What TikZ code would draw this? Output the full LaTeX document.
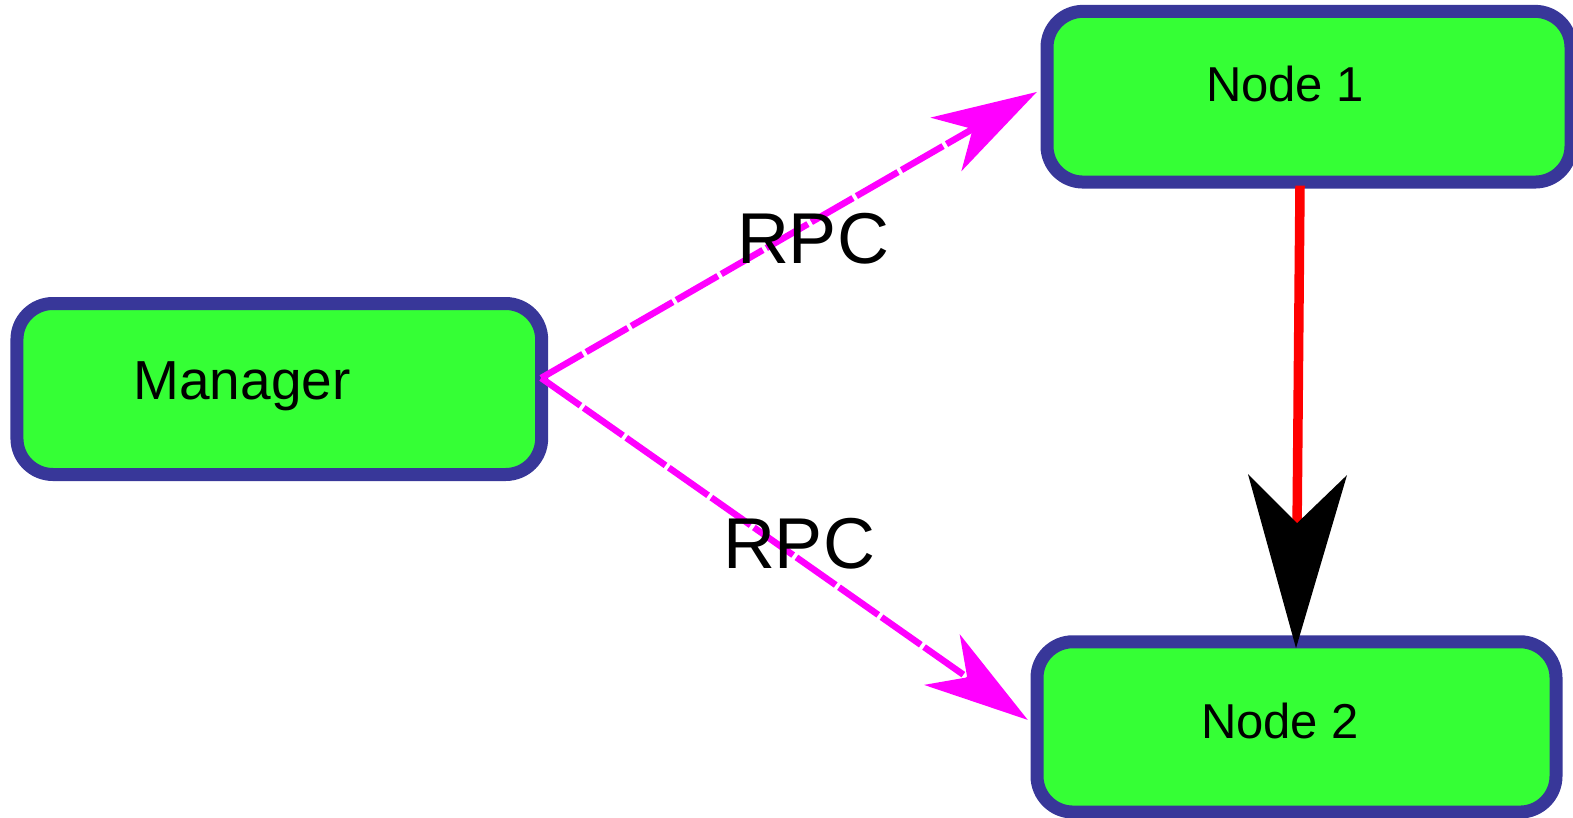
\documentclass[tikz,border=0pt]{standalone}
\usepackage{fontspec}
\setmainfont{Liberation Sans}
\usetikzlibrary{arrows.meta}

\definecolor{boxborder}{RGB}{56,55,153}
\definecolor{boxfill}{RGB}{53,255,53}
\definecolor{rpcline}{RGB}{255,0,255}
\definecolor{linkline}{RGB}{255,0,0}

\tikzset{
  box/.style={draw=boxborder, fill=boxfill, line width=13pt,
    rounded corners=36pt, inner sep=0pt, minimum height=171pt},
  boxtext/.style={anchor=base, inner sep=0pt, font=\fontsize{49pt}{54pt}\selectfont},
  rpctext/.style={anchor=base, inner sep=0pt, font=\fontsize{72pt}{80pt}\selectfont},
  rpc/.style={draw=rpcline, line width=6.5pt, dash pattern=on 48pt off 4pt,
    -{Stealth[length=105pt, width=62pt, inset=31pt, line width=0pt, color=rpcline]}},
  link/.style={draw=linkline, line width=9.5pt,
    -{Stealth[length=173.5pt, width=99pt, inset=48.5pt, line width=0pt, color=black]}}
}

\begin{document}
\begin{tikzpicture}[x=1pt, y=-1pt]
  \useasboundingbox (0,0) rectangle (1573,818);

  % boxes
  \node[box, minimum width=524.7pt] (mgr) at (279.3,389) {};
  \node[box, minimum width=524pt, minimum height=170.7pt] (n1) at (1309,96.7) {};
  \node[box, minimum width=519pt, minimum height=170.3pt] (n2) at (1296.5,726.9) {};

  % box captions
  \node[boxtext, font=\fontsize{55pt}{60pt}\selectfont] (mgrlabel) at (242,399) {Manager};
  \node[boxtext] (n1label) at (1285,102) {Node 1};
  \node[boxtext] (n2label) at (1280,738) {Node 2};

  % connectors
  \draw[rpc] ([xshift=-7pt,yshift=11pt]mgr.east) -- ([xshift=-3.75pt,yshift=4.7pt]n1.west);
  \draw[rpc] ([xshift=-7pt,yshift=11pt]mgr.east) -- ([xshift=-2.75pt,yshift=7pt]n2.west);
  \draw[link] ([xshift=-9pt,yshift=3pt]n1.south) -- ([xshift=-0.5pt,yshift=-12.9pt]n2.north);

  % connector labels
  \node[rpctext] (rpc1) at (813,263) {RPC};
  \node[rpctext] (rpc2) at (799,568) {RPC};
\end{tikzpicture}
\end{document}
